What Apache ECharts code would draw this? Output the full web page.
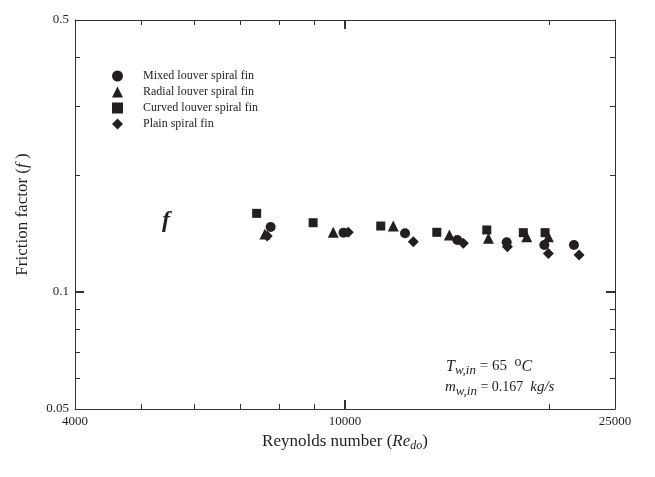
<!DOCTYPE html>
<html lang="en">
<head>
<meta charset="utf-8" />
</head>
<body style="margin:0">
<div id="container" style="width:655px;height:477px"></div>
<script src="https://cdn.jsdelivr.net/npm/echarts@6/dist/echarts.min.js"></script>
<script>
// Reynolds number (x) and friction factor (y) for each fin type
var reMixed = [7770, 9950, 12260, 14640, 17310, 19670, 21750];
var fMixed = [0.1469, 0.1420, 0.1415, 0.1360, 0.1341, 0.1320, 0.1320];
var reRadial = [7620, 9610, 11780, 14250, 16270, 18530, 19940];
var fRadial = [0.1409, 0.1423, 0.1477, 0.1401, 0.1373, 0.1387, 0.1387];
var reCurved = [7410, 8975, 11290, 13655, 16180, 18316, 19720];
var fCurved = [0.1592, 0.1506, 0.1477, 0.1423, 0.1443, 0.1420, 0.1420];
var rePlain = [7680, 10110, 12610, 14940, 17350, 19940, 22130];
var fPlain = [0.1392, 0.1423, 0.1346, 0.1334, 0.1307, 0.1256, 0.1244];

var xLabels = [4000, 10000, 25000];
var xMinor = [5000, 6000, 7000, 8000, 9000, 20000];
var xMajor = [10000];
var yLabels = [0.05, 0.1, 0.5];
var yMinor = [0.06, 0.07, 0.08, 0.09, 0.2, 0.3, 0.4];
var yMajor = [0.1];

var serif = "Liberation Serif";
var ink = "#231f20";

function pairs(xs, ys) {
  return xs.map(function (x, i) { return [x, ys[i]]; });
}

function logAxis(pos, min, max, ticks, len, width, labels, showLine) {
  return {
    type: "log",
    logBase: 10,
    position: pos,
    min: min,
    max: max,
    axisLine: { show: showLine, lineStyle: { color: "#333", width: 1 } },
    axisTick: { show: true, inside: true, length: len, customValues: ticks,
      lineStyle: { color: "#333", width: width } },
    axisLabel: labels
      ? { show: true, customValues: labels, color: ink, fontFamily: serif, fontSize: 13, margin: 6,
          formatter: function (v) { return String(+v.toPrecision(6)); } }
      : { show: false },
    splitLine: { show: false },
    minorTick: { show: false }
  };
}

var xBottom = logAxis("bottom", 4000, 25000, xMinor, 5, 1, xLabels, true);
xBottom.name = "Reynolds number ({i|Re}{sub|do})";
xBottom.nameLocation = "middle";
xBottom.nameGap = 17;
xBottom.nameTextStyle = {
  color: ink, fontFamily: serif, fontSize: 17,
  rich: {
    i: { fontFamily: serif, fontSize: 17, fontStyle: "italic", color: ink },
    sub: { fontFamily: serif, fontSize: 12, fontStyle: "italic", color: ink, padding: [9, 0, 0, 0] }
  }
};

var yLeft = logAxis("left", 0.05, 0.5, yMinor, 5, 1, yLabels, true);
yLeft.name = "Friction factor ({i|f} )";
yLeft.nameLocation = "middle";
yLeft.nameGap = 44;
yLeft.nameTextStyle = {
  color: ink, fontFamily: serif, fontSize: 17,
  rich: { i: { fontFamily: serif, fontSize: 17, fontStyle: "italic", color: ink } }
};

var option = {
  animation: false,
  backgroundColor: "#fff",
  grid: { left: 75, top: 20, width: 540, height: 389 },
  xAxis: [
    xBottom,
    logAxis("bottom", 4000, 25000, xMajor, 9, 2, null, false),
    logAxis("top", 4000, 25000, xMinor, 5, 1, null, true),
    logAxis("top", 4000, 25000, xMajor, 9, 2, null, false)
  ],
  yAxis: [
    yLeft,
    logAxis("left", 0.05, 0.5, yMajor, 9, 2, null, false),
    logAxis("right", 0.05, 0.5, yMinor, 5, 1, null, true),
    logAxis("right", 0.05, 0.5, yMajor, 9, 2, null, false)
  ],
  legend: {
    orient: "vertical",
    left: 107,
    top: 65,
    itemWidth: 11,
    itemHeight: 11,
    itemGap: 4,
    symbolKeepAspect: true,
    textStyle: { color: ink, fontFamily: serif, fontSize: 12, padding: [0, 0, 0, 15] },
    data: ["Mixed louver spiral fin", "Radial louver spiral fin", "Curved louver spiral fin", "Plain spiral fin"]
  },
  series: [
    { name: "Mixed louver spiral fin", type: "scatter", symbol: "circle", symbolSize: 10,
      itemStyle: { color: ink, opacity: 1 }, data: pairs(reMixed, fMixed) },
    { name: "Radial louver spiral fin", type: "scatter", symbol: "triangle", symbolSize: 11,
      itemStyle: { color: ink, opacity: 1 }, data: pairs(reRadial, fRadial) },
    { name: "Curved louver spiral fin", type: "scatter", symbol: "rect", symbolSize: 9,
      itemStyle: { color: ink, opacity: 1 }, data: pairs(reCurved, fCurved) },
    { name: "Plain spiral fin", type: "scatter", symbol: "diamond", symbolSize: 11,
      itemStyle: { color: ink, opacity: 1 }, data: pairs(rePlain, fPlain) }
  ],
  graphic: [
    { type: "text", left: 162, top: 209,
      style: { text: "f", fill: ink, font: "italic bold 24px Liberation Serif" } },
    { type: "text", left: 446, top: 355,
      style: {
        text: "{i|T}{sub|w,in}{n| = 65  }{sup|o}{i|C}",
        fill: ink,
        rich: {
          i: { fontFamily: serif, fontSize: 16, fontStyle: "italic", fill: ink },
          n: { fontFamily: serif, fontSize: 15, fill: ink },
          sub: { fontFamily: serif, fontSize: 13, fontStyle: "italic", fill: ink, padding: [9, 0, 0, 0] },
          sup: { fontFamily: serif, fontSize: 14, fill: ink, padding: [0, 0, 9, 0] }
        }
      } },
    { type: "text", left: 445, top: 380,
      style: {
        text: "{i|m}{sub|w,in}{n| = 0.167  }{i|kg/s}",
        fill: ink,
        rich: {
          i: { fontFamily: serif, fontSize: 15, fontStyle: "italic", fill: ink },
          n: { fontFamily: serif, fontSize: 14, fill: ink },
          sub: { fontFamily: serif, fontSize: 13, fontStyle: "italic", fill: ink, padding: [9, 0, 0, 0] }
        }
      } }
  ]
};

var myChart = echarts.init(document.getElementById("container"), null, { renderer: "canvas" });
myChart.setOption(option);
window.addEventListener("resize", myChart.resize);
</script>
</body>
</html>
